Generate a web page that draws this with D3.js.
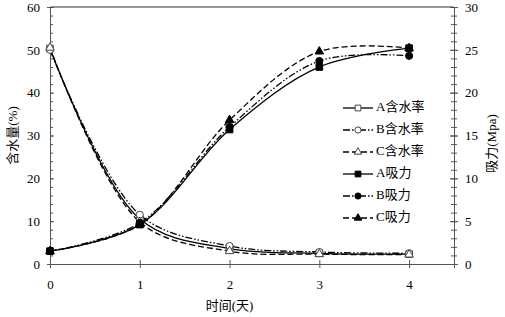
<!DOCTYPE html>
<html>
<head>
<meta charset="utf-8">
<script src="https://cdn.jsdelivr.net/npm/d3@7"></script>
<style>
  body { margin: 0; background: #fff; }
  svg text { font-family: "Liberation Serif", "Noto Sans CJK SC", serif; }
</style>
</head>
<body>
<div id="chart"></div>
<script>
// 数据
const days = [0, 1, 2, 3, 4];
const waterA = [50.3, 10.5, 3.6, 2.5, 2.3];
const waterB = [50.0, 11.5, 4.2, 2.8, 2.5];
const waterC = [50.5, 9.8, 3.0, 2.3, 2.2];
const suctionA = [1.5, 4.6, 15.7, 23.0, 25.2];
const suctionB = [1.5, 4.8, 16.0, 23.7, 24.3];
const suctionC = [1.5, 4.6, 16.8, 24.8, 25.2];
const leftTicks = [0, 10, 20, 30, 40, 50, 60];
const rightTicks = [0, 5, 10, 15, 20, 25, 30];
const legendNames = ['A含水率', 'B含水率', 'C含水率', 'A吸力', 'B吸力', 'C吸力'];

const width = 505, height = 317;
const margin = { top: 7, right: 51, bottom: 53, left: 50 };

const svg = d3.select('#chart').append('svg')
  .attr('width', width)
  .attr('height', height);

const x = d3.scaleLinear().domain([0, 4.5]).range([margin.left, width - margin.right]);
const yL = d3.scaleLinear().domain([0, 60]).range([height - margin.bottom, margin.top]);
const yR = d3.scaleLinear().domain([0, 30]).range([height - margin.bottom, margin.top]);

const axisColor = '#555';

// 边框（上）
svg.append('line')
  .attr('x1', x(0)).attr('x2', x(4.5))
  .attr('y1', yL(60)).attr('y2', yL(60))
  .attr('stroke', '#333').attr('stroke-width', 1);

// 轴
function styleAxis(g) {
  g.selectAll('path').attr('stroke', axisColor);
  g.selectAll('line').attr('stroke', axisColor);
  g.selectAll('text').attr('fill', '#000').style('font-size', '13px');
}

// 左轴 minor ticks
const gL = svg.append('g').attr('transform', `translate(${x(0)},0)`);
gL.call(d3.axisLeft(yL).tickValues(d3.range(0, 61, 2)).tickSize(3).tickFormat(''))
  .call(styleAxis);
gL.selectAll('.tick line').attr('x2', 3);
const gL2 = svg.append('g').attr('transform', `translate(${x(0)},0)`);
gL2.call(d3.axisLeft(yL).tickValues(leftTicks).tickSize(4).tickPadding(6))
  .call(styleAxis);
gL2.select('path').remove();
gL2.selectAll('.tick line').attr('x2', 4);

// 右轴
const gR = svg.append('g').attr('transform', `translate(${x(4.5)},0)`);
gR.call(d3.axisRight(yR).tickValues(d3.range(0, 31, 1)).tickSize(3).tickFormat(''))
  .call(styleAxis);
gR.selectAll('.tick line').attr('x1', -3);
const gR2 = svg.append('g').attr('transform', `translate(${x(4.5)},0)`);
gR2.call(d3.axisRight(yR).tickValues(rightTicks).tickSize(4).tickPadding(7))
  .call(styleAxis);
gR2.select('path').remove();
gR2.selectAll('.tick line').attr('x1', -4);

// 下轴
const gB = svg.append('g').attr('transform', `translate(0,${yL(0)})`);
gB.call(d3.axisBottom(x).tickValues(days).tickSize(4).tickPadding(12).tickFormat(d3.format('d')))
  .call(styleAxis);
gB.selectAll('.tick line').attr('y1', -4);

// 轴标题
svg.append('text')
  .attr('transform', `translate(14,${(yL(60) + yL(0)) / 2}) rotate(-90)`)
  .attr('text-anchor', 'middle')
  .attr('dominant-baseline', 'middle')
  .style('font-size', '13px')
  .text('含水量(%)');
svg.append('text')
  .attr('transform', `translate(493,${(yR(30) + yR(0)) / 2 + 8}) rotate(-90)`)
  .attr('text-anchor', 'middle')
  .attr('dominant-baseline', 'middle')
  .style('font-size', '13px')
  .text('吸力(Mpa)');
svg.append('text')
  .attr('x', x(2)).attr('y', 307)
  .attr('text-anchor', 'middle')
  .attr('dominant-baseline', 'middle')
  .style('font-size', '13px')
  .text('时间(天)');

// 系列
const dashes = { A: null, B: '7,2,1.5,2,1.5,2', C: '6,3' };
const series = [
  { name: legendNames[0], vals: waterA, scale: yL, dash: dashes.A, shape: 'square', fill: '#fff' },
  { name: legendNames[1], vals: waterB, scale: yL, dash: dashes.B, shape: 'circle', fill: '#fff' },
  { name: legendNames[2], vals: waterC, scale: yL, dash: dashes.C, shape: 'triangle', fill: '#fff' },
  { name: legendNames[3], vals: suctionA, scale: yR, dash: dashes.A, shape: 'square', fill: '#000' },
  { name: legendNames[4], vals: suctionB, scale: yR, dash: dashes.B, shape: 'circle', fill: '#000' },
  { name: legendNames[5], vals: suctionC, scale: yR, dash: dashes.C, shape: 'triangle', fill: '#000' }
];

const symbolType = { square: d3.symbolSquare, circle: d3.symbolCircle, triangle: d3.symbolTriangle };
const symbolSize = { square: 44, circle: 40, triangle: 32 };

function drawMarker(g, s, cx, cy, k = 1) {
  g.append('path')
    .attr('d', d3.symbol().type(symbolType[s.shape]).size(symbolSize[s.shape] * k)())
    .attr('transform', `translate(${cx},${cy})`)
    .attr('fill', s.fill)
    .attr('stroke', s.fill === '#fff' ? '#444' : '#000')
    .attr('stroke-width', 1);
}

series.forEach(s => {
  const line = d3.line()
    .x((d, i) => x(days[i]))
    .y(d => s.scale(d))
    .curve(d3.curveCatmullRom.alpha(0.5));
  svg.append('path')
    .datum(s.vals)
    .attr('d', line)
    .attr('fill', 'none')
    .attr('stroke', '#000')
    .attr('stroke-width', 1.3)
    .attr('stroke-dasharray', s.dash);
});

series.forEach(s => {
  const g = svg.append('g');
  s.vals.forEach((v, i) => drawMarker(g, s, x(days[i]), s.scale(v)));
});

// 图例
const legend = svg.append('g').attr('transform', 'translate(343,108)');
series.forEach((s, i) => {
  const row = legend.append('g').attr('transform', `translate(0,${i * 22})`);
  row.append('line')
    .attr('x1', 0).attr('x2', 30).attr('y1', 0).attr('y2', 0)
    .attr('stroke', '#000').attr('stroke-width', 1.3)
    .attr('stroke-dasharray', s.dash);
  drawMarker(row, s, 15, 0, 0.75);
  row.append('text')
    .attr('x', 33).attr('y', 0)
    .attr('dominant-baseline', 'middle')
    .style('font-size', '13px')
    .text(s.name);
});
</script>
</body>
</html>
